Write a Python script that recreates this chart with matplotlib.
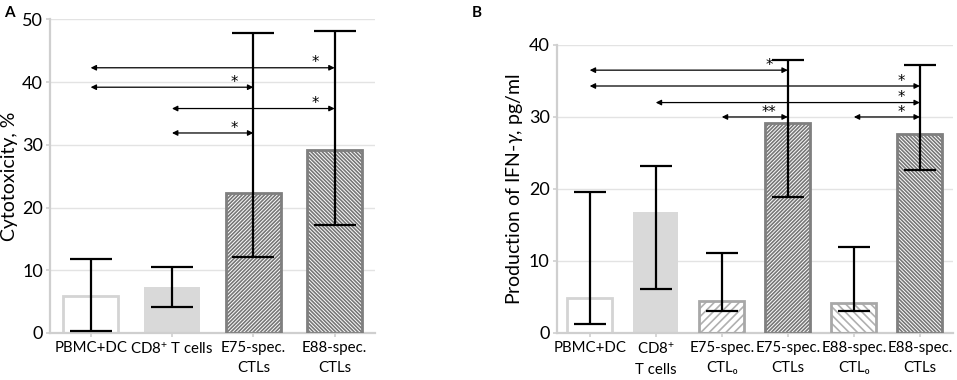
import matplotlib
matplotlib.use("Agg")
import matplotlib.pyplot as plt
import numpy as np

plt.rcParams['font.family'] = ['Lato', 'DejaVu Sans']
plt.rcParams['mathtext.fontset'] = 'custom'
plt.rcParams['mathtext.rm'] = 'Lato'
plt.rcParams['mathtext.it'] = 'Lato:italic'
plt.rcParams['hatch.linewidth'] = 1.2

# ---------- Panel A data ----------
a_labels = ["PBMC+DC", "CD8$^{+}$ T cells", "E75-spec.\nCTLs", "E88-spec.\nCTLs"]
a_values = [5.9, 7.4, 22.3, 29.2]
a_err_low = [0.3, 4.1, 12.1, 17.2]
a_err_high = [11.8, 10.6, 47.8, 48.1]
a_styles = ["open", "solid", "dense/", "dense\\"]
# significance: (from, to, y, label)
a_sig_from = [0, 0, 1, 1]
a_sig_to = [3, 2, 3, 2]
a_sig_y = [42.3, 39.2, 35.8, 31.9]
a_sig_text = ["*", "*", "*", "*"]

# ---------- Panel B data ----------
b_labels = ["PBMC+DC", "CD8$^{+}$\nT cells", "E75-spec.\nCTL\u2080", "E75-spec.\nCTLs",
            "E88-spec.\nCTL\u2080", "E88-spec.\nCTLs"]
b_values = [4.8, 16.8, 4.5, 29.1, 4.2, 27.6]
b_err_low = [1.2, 6.1, 3.1, 18.9, 3.1, 22.6]
b_err_high = [19.6, 23.2, 11.1, 37.9, 11.9, 37.2]
b_styles = ["open", "solid", "light/", "dense/", "light\\", "dense\\"]
b_sig_from = [0, 0, 1, 2, 4]
b_sig_to = [3, 5, 5, 3, 5]
b_sig_y = [36.5, 34.3, 32.0, 30.0, 30.0]
b_sig_text = ["*", "*", "*", "**", "*"]

fig = plt.figure(figsize=(9.57, 3.8), dpi=100)

GRID = "#e3e3e3"
SPINE = "#cfcfcf"


def draw_panel(ax, labels, values, lo, hi, styles, ymax, capsize, sf, st, sy, stext, star_dx):
    x = np.arange(len(values))
    width = 0.68
    for xi, v, s in zip(x, values, styles):
        if s == "open":
            ax.bar(xi, v, width, facecolor="white", edgecolor="#d4d4d4", linewidth=2.0, zorder=2)
        elif s == "solid":
            ax.bar(xi, v, width, facecolor="#d9d9d9", edgecolor="none", zorder=2)
        else:
            kind, d = s[:-1], s[-1]
            if kind == "dense":
                hatch = d * 9
                hc, ec = "#777777", "#7f7f7f"
            else:
                hatch = d * 4
                hc, ec = "#b0b0b0", "#a8a8a8"
            ax.bar(xi, v, width, facecolor="white", edgecolor=hc, linewidth=0, hatch=hatch, zorder=2)
            ax.bar(xi, v, width, fill=False, edgecolor=ec, linewidth=2.0, zorder=3)
    vals = np.array(values)
    yerr = np.vstack([vals - np.array(lo), np.array(hi) - vals])
    ax.errorbar(x, vals, yerr=yerr, fmt="none", ecolor="black", elinewidth=1.6,
                capsize=capsize, capthick=1.6, zorder=5)
    for a, b, y, t in zip(sf, st, sy, stext):
        ax.annotate("", xy=(b, y), xytext=(a, y),
                    arrowprops=dict(arrowstyle="<|-|>", color="black", lw=0.9,
                                    mutation_scale=8, shrinkA=0, shrinkB=0), zorder=6)
        ax.annotate(t, xy=(b - star_dx, y), xytext=(0, 0.3), textcoords="offset points",
                    ha="center", va="baseline", fontsize=10.5,
                    family="DejaVu Sans", zorder=6)
    ax.set_xlim(-0.5, len(values) - 0.5)
    ax.set_ylim(0, ymax)
    ax.set_yticks(np.arange(0, ymax + 1, 10))
    ax.set_xticks(x)
    ax.set_xticklabels(labels, fontsize=10.8, linespacing=1.5)
    ax.tick_params(axis="y", labelsize=13, length=3, color=SPINE, width=1.2, pad=2)
    ax.tick_params(axis="x", length=3, color=SPINE, width=1.2, pad=3)
    ax.yaxis.grid(True, color=GRID, linewidth=1.0, zorder=0)
    ax.set_axisbelow(True)
    for sp in ["top", "right"]:
        ax.spines[sp].set_visible(False)
    for sp in ["left", "bottom"]:
        ax.spines[sp].set_color(SPINE)
        ax.spines[sp].set_linewidth(1.6)


axA = fig.add_axes([0.0522, 0.1237, 0.340, 0.825])
draw_panel(axA, a_labels, a_values, a_err_low, a_err_high, a_styles, 50, 15,
           a_sig_from, a_sig_to, a_sig_y, a_sig_text, 0.24)
axA.set_ylabel("Cytotoxicity, %", fontsize=14, labelpad=3)

axB = fig.add_axes([0.5817, 0.1237, 0.414, 0.758])
draw_panel(axB, b_labels, b_values, b_err_low, b_err_high, b_styles, 40, 11.5,
           b_sig_from, b_sig_to, b_sig_y, b_sig_text, 0.28)
axB.set_ylabel("Production of IFN-$\\gamma$, pg/ml", fontsize=14, labelpad=3)

fig.text(0.004, 0.985, "A", fontsize=11, fontweight="bold", va="top", ha="left")
fig.text(0.493, 0.985, "B", fontsize=11, fontweight="bold", va="top", ha="left")

fig.savefig("out.png", dpi=100)
